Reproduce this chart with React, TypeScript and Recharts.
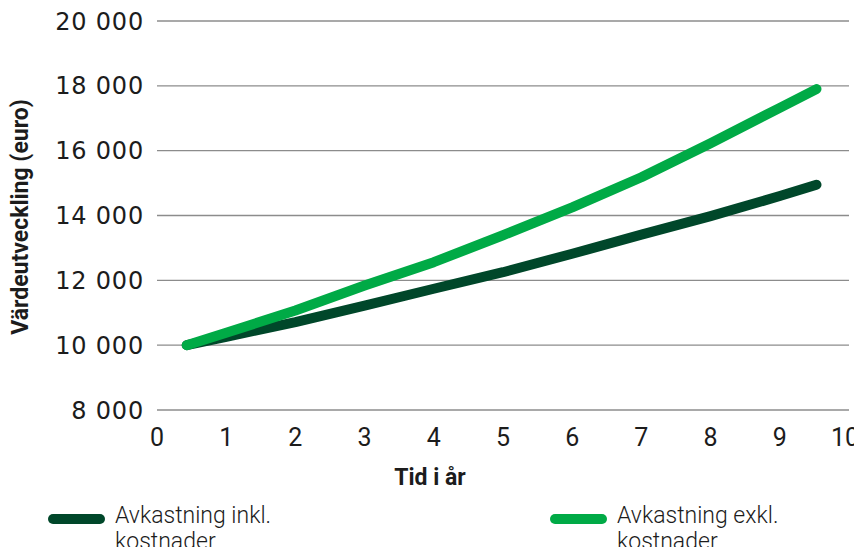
import { LineChart, Line, XAxis, YAxis, CartesianGrid } from 'recharts';

// years on the x axis (lines start a little after 0 and end before 10)
const years = [0.43, 1, 2, 3, 4, 5, 6, 7, 8, 9, 9.53];
const inkl = [10000, 10260, 10710, 11220, 11740, 12250, 12820, 13410, 13980, 14600, 14950];
const exkl = [10000, 10380, 11070, 11840, 12560, 13390, 14250, 15180, 16230, 17320, 17900];

const xTicks = [0, 1, 2, 3, 4, 5, 6, 7, 8, 9, 10];
const yTicks = [8000, 10000, 12000, 14000, 16000, 18000, 20000];

const seriesNames = ['Avkastning inkl.\nkostnader', 'Avkastning exkl.\nkostnader'];
const DARK = '#00472a';
const LIGHT = '#00aa46';
const TEXT = '#1c1c1c';
const NARROW = "'Liberation Sans Narrow', 'Roboto', sans-serif";

const data = years.map((y, i) => ({ year: y, inkl: inkl[i], exkl: exkl[i] }));

const fmt = (v: number) => v.toLocaleString('en-US').replace(/,/g, ' ');

function XTick(props: any) {
  const { x, y, payload } = props;
  const last = payload.value === 10;
  return (
    <text
      x={last ? 859 : x}
      y={y}
      dy="0.71em"
      textAnchor={last ? 'end' : 'middle'}
      fontFamily={NARROW}
      fontSize={25}
      fill={TEXT}
    >
      {payload.value}
    </text>
  );
}

function LegendItem({ color, label, left }: { color: string; label: string; left: number }) {
  const [l1, l2] = label.split('\n');
  return (
    <div style={{ position: 'absolute', left, top: 503, display: 'flex', alignItems: 'flex-start' }}>
      <div style={{ width: 57, height: 10, borderRadius: 5, background: color, marginTop: 11, marginRight: 10 }} />
      <div style={{ fontFamily: NARROW, fontSize: 23, lineHeight: '26px', color: TEXT, fontWeight: 300 }}>
        {l1}
        <br />
        {l2}
      </div>
    </div>
  );
}

export default function App() {
  return (
    <div style={{ position: 'relative', width: 862, height: 555, margin: -8, overflow: 'hidden', background: '#fff' }}>
      <LineChart width={862} height={555} data={data} margin={{ top: 21, right: 13, left: 0, bottom: 0 }}>
        <CartesianGrid vertical={false} stroke="#8c8c8c" strokeWidth={1.4} />
        <XAxis
          dataKey="year"
          type="number"
          domain={[0, 10]}
          ticks={xTicks}
          axisLine={false}
          tickLine={false}
          tickSize={0}
          tickMargin={18}
          height={145}
          interval={0}
          tick={<XTick />}
          label={{
            content: () => (
              <text x={430} y={485} textAnchor="middle" fontFamily={NARROW} fontWeight={700} fontSize={23} fill={TEXT}>
                Tid i år
              </text>
            ),
          }}
        />
        <YAxis
          domain={[8000, 20000]}
          ticks={yTicks}
          axisLine={false}
          tickLine={false}
          tickSize={0}
          tickMargin={13}
          width={157}
          interval={0}
          tickFormatter={fmt}
          tick={{ fontFamily: "'DejaVu Sans', sans-serif", fontSize: 24, fill: TEXT, letterSpacing: 0.8 }}
          label={{
            content: () => (
              <text
                x={28}
                y={217}
                transform="rotate(-90 28 217)"
                textAnchor="middle"
                fontFamily="Roboto, sans-serif"
                fontWeight={700}
                fontSize={23}
                fill={TEXT}
              >
                Värdeutveckling (euro)
              </text>
            ),
          }}
        />
        <Line
          type="linear"
          dataKey="inkl"
          stroke={DARK}
          strokeWidth={10}
          strokeLinecap="round"
          strokeLinejoin="round"
          dot={false}
          isAnimationActive={false}
        />
        <Line
          type="linear"
          dataKey="exkl"
          stroke={LIGHT}
          strokeWidth={10}
          strokeLinecap="round"
          strokeLinejoin="round"
          dot={false}
          isAnimationActive={false}
        />
      </LineChart>
      <LegendItem color={DARK} label={seriesNames[0]} left={48} />
      <LegendItem color={LIGHT} label={seriesNames[1]} left={550} />
    </div>
  );
}
